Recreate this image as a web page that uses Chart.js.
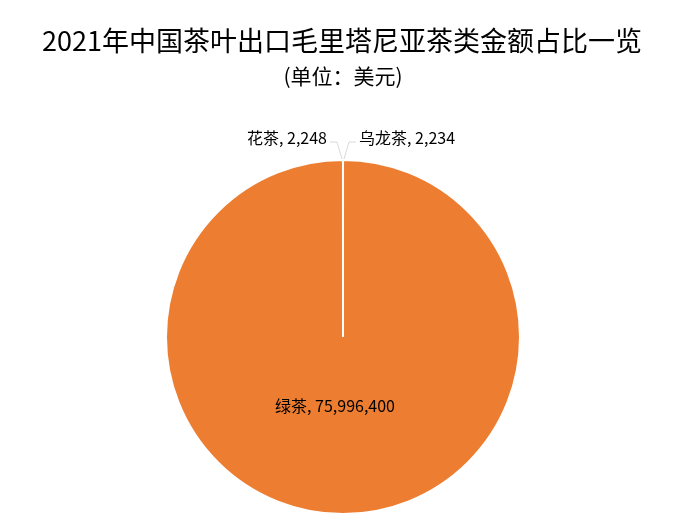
<!DOCTYPE html>
<html>
<head>
<meta charset="utf-8">
<script src="https://cdn.jsdelivr.net/npm/chart.js"></script>
<style>
  body { margin: 0; background: #fff; }
  canvas { display: block; }
</style>
</head>
<body>
<canvas id="teaPie" width="687" height="529"></canvas>
<script>
// data (USD)
var teaTypes = ['乌龙茶', '绿茶', '花茶'];
var teaValues = [2234, 75996400, 2248];
var sliceColors = ['#4472C4', '#ED7D31', '#A5A5A5'];

var titleText = '2021年中国茶叶出口毛里塔尼亚茶类金额占比一览';
var subtitleText = '(单位：美元)';
var cjkFont = '"Noto Sans CJK SC", "Noto Sans", sans-serif';

function fmt(v) {
  return v.toString().replace(/\B(?=(\d{3})+(?!\d))/g, ',');
}

// titles + slice labels (leader lines for the two tiny slices)
var labelPlugin = {
  id: 'teaLabels',
  afterDraw: function(chart) {
    var ctx = chart.ctx;
    ctx.save();
    ctx.fillStyle = '#000';
    ctx.textAlign = 'center';
    ctx.textBaseline = 'middle';
    ctx.font = '27px ' + cjkFont;
    ctx.fillText(titleText, 342, 41);
    ctx.font = '21px ' + cjkFont;
    ctx.fillText(subtitleText, 343, 76);

    ctx.font = '16px ' + cjkFont;
    var arcs = chart.getDatasetMeta(0).data;
    arcs.forEach(function(arc, i) {
      var p = arc.getProps(['x', 'y', 'startAngle', 'endAngle', 'outerRadius'], true);
      var mid = (p.startAngle + p.endAngle) / 2;
      var txt = teaTypes[i] + ', ' + fmt(teaValues[i]);
      var span = p.endAngle - p.startAngle;
      if (span > 1) {
        var r = p.outerRadius * 0.39;
        ctx.textAlign = 'center';
        ctx.fillText(txt, p.x + Math.cos(mid) * r - 8, p.y + Math.sin(mid) * r);
        return;
      }
      // tiny slice: little elbow line up and out
      var sx = p.x + Math.cos(mid) * p.outerRadius;
      var sy = p.y + Math.sin(mid) * p.outerRadius;
      var side = Math.cos(mid) >= 0 ? 1 : -1;
      var ex = sx + side * 6, ey = sy - 18;
      var hx = ex + side * 7;
      ctx.strokeStyle = '#d9d9d9';
      ctx.lineWidth = 1;
      ctx.beginPath();
      ctx.moveTo(sx + side * 1, sy - 1);
      ctx.lineTo(ex, ey);
      ctx.lineTo(hx, ey);
      ctx.stroke();
      ctx.textAlign = side > 0 ? 'left' : 'right';
      ctx.fillText(txt, hx + side * 3, ey - 4);
    });
    ctx.restore();
  }
};

var ctx1 = document.getElementById('teaPie').getContext('2d');
var teaChart = new Chart(ctx1, {
  type: 'pie',
  data: {
    labels: teaTypes,
    datasets: [{
      data: teaValues,
      backgroundColor: sliceColors,
      borderColor: '#fff',
      borderWidth: 2
    }]
  },
  options: {
    responsive: false,
    animation: false,
    layout: {
      padding: { left: 165, right: 166, top: 159, bottom: 14 }
    },
    plugins: {
      legend: { display: false },
      tooltip: { enabled: false }
    }
  },
  plugins: [labelPlugin]
});
</script>
</body>
</html>
